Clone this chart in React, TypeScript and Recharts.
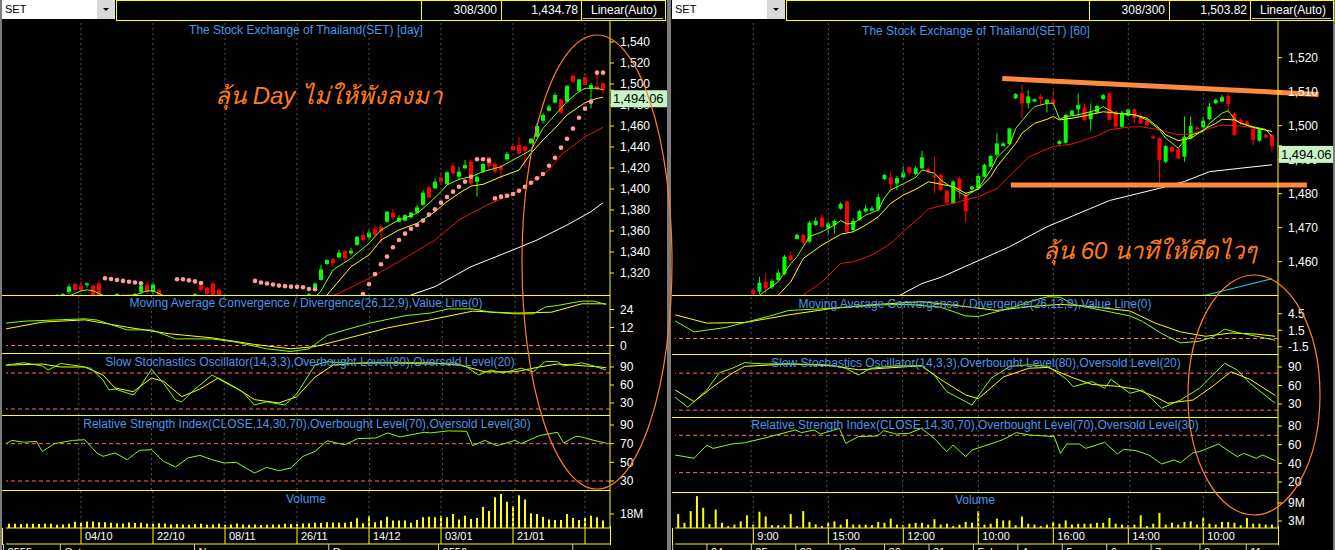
import React from 'react';
import { ComposedChart, Bar, Line, XAxis, YAxis, ReferenceLine } from 'recharts';

// ---------------- DATA: daily panel (100 bars) ----------------
const dayO = [1291,1292,1294,1293,1295,1296,1294,1296,1297,1298, 1302,1309.5,1308,1308.5,1308,1310,1297,1294,1297,1299, 1296,1297,1302,1309,1302,1304,1297,1293,1291,1294, 1293,1297,1308,1306,1310,1304,1296,1291,1286,1288, 1284,1280,1282,1278,1275,1279,1277,1281,1285,1288, 1295,1304.5,1313.3,1328.6,1333.3,1334.9,1341,1338.7,1346.7,1356.2, 1354,1361.6,1364.1,1368.9,1377.5,1368.9,1369.8,1373,1377.5,1384.8, 1401.6,1400.6,1410.8,1404.8,1421.9,1411.7,1419.7,1426,1406.9,1416.5, 1430.1,1423.8,1421.3,1428.2,1440.9,1441.9,1440.3,1443.5,1449.8,1465.1, 1474.6,1482.2,1485.4,1483.2,1507.6,1493.6,1506.3,1495.9,1498.1,1500.6];
const dayH = [1294,1296,1297,1296,1298,1298,1297,1299,1300,1301, 1309,1311,1312,1311,1309,1313,1299,1297,1301,1300, 1298,1301,1310,1312,1311,1305,1299,1296,1295,1297, 1296,1301,1309,1307,1312,1305,1298,1293,1290,1291, 1287,1284,1285,1281,1280,1283,1282,1286,1290,1294, 1301,1311,1327.6,1333,1334,1342,1341.5,1344,1355,1360, 1361,1365.7,1365,1379,1381,1375,1376,1378,1384.8,1399, 1403,1410,1415.6,1417,1425,1421,1427.6,1428,1413,1425, 1431,1426,1423,1435.6,1443,1449.8,1442,1448.5,1462.5,1472.7, 1480,1491.7,1486,1499,1510.2,1505,1510.2,1501,1511.7,1501];
const dayL = [1288,1290,1291,1289,1292,1293,1290,1293,1294,1295, 1300,1302,1302,1306,1296,1296,1292,1291,1295,1294, 1292,1295,1300,1300,1300,1295,1291,1289,1287,1290, 1290,1295,1302,1298,1297,1296,1290,1285,1282,1283, 1278,1276,1277,1272,1271,1275,1274,1279,1283,1286, 1293,1303,1313,1328,1326,1334,1329.8,1337,1346,1350, 1352,1355,1348,1368,1370.5,1368,1369,1372,1377,1384, 1391,1400,1403.8,1404,1414,1408.6,1419,1404,1392.7,1415, 1418,1415,1410,1427,1436,1432.4,1419.7,1443,1449,1462.5, 1474,1481.5,1471.4,1482.5,1500.6,1493,1498.5,1476.8,1494,1490.5];
const dayC = [1292,1294,1293,1295,1296,1294,1296,1297,1299,1300, 1307,1304,1304,1310,1299,1299,1294,1296,1300,1296, 1297,1300,1308,1302,1309,1298,1293,1291,1294,1292, 1295,1300,1304,1300,1299,1299,1291,1286,1288,1284, 1280,1282,1278,1275,1279,1277,1281,1285,1288,1293, 1300,1310,1323.5,1332.4,1329.2,1339.4,1334,1341.3,1354.6,1351.4, 1358.4,1356.2,1359.4,1378.4,1373,1372.7,1375.2,1377.5,1382.5,1396.5, 1392,1407,1407,1415.9,1414.9,1416.5,1422.8,1405.4,1411.7,1423.8, 1421.9,1416.5,1418.1,1433.3,1437.1,1434,1436.5,1447.9,1460,1470.5, 1478.4,1489.5,1472.7,1498.1,1502.2,1504.4,1499.1,1499.1,1494.9,1494.06];
const dayVol = [5.4,5.4,5.0,5.4,5.4,5.0,5.4,5.4,4.2,4.6, 5.4,8.0,6.5,8.3,8.3,7.5,7.5,6.8,6.2,5.8, 7.0,6.5,6.8,5.8,5.4,6.2,5.8,4.6,5.0,4.6, 4.2,5.0,5.4,4.2,4.6,5.4,4.2,4.6,5.8,4.6, 4.2,4.6,3.8,4.2,4.6,4.6,5.4,5.0,5.4,5.8, 6.2,6.8,6.5,7.5,7.2,6.6,6.8,8.0,12.5,6.2, 15.8,7.5,9.5,14.5,9.5,9.5,9.5,6.6,10.4,13.7, 14.5,13.7,15.8,13.7,17.9,10.8,15.8,11.6,12.9,27, 22,39.5,43.7,33.7,28.3,42,36.6,19.1,17.9,14.5, 10.8,10.4,10.4,17.9,12.9,10.4,12.9,15.8,13.7,9.5];

type Pair = [number, number];
// readings [bar index, value]
const dayFast: Pair[] = [[10,1298],[12,1303],[13,1304],[14,1303],[16,1298],[21,1299],[23,1303],[24,1303],[26,1298],[30,1293],[40,1285],[48,1290],[51,1297],[52,1303],[54,1322.9],[57,1334],[60,1348.3],[62,1361],[65,1370.5],[68,1376.8],[70,1386.4],[72,1397.5],[73,1403.8],[75,1409.2],[77,1411.7],[79,1416.5],[82,1421.3],[84,1427.6],[87,1437.1],[89,1457.8],[91,1470.5],[93,1483.2],[95,1492.7],[96,1495.9],[98,1495.9],[99,1494.3]];
const dayMid: Pair[] = [[10,1294],[24,1297],[48,1285],[53,1299],[57,1326],[60,1337.2],[62,1351.4],[65,1361],[68,1367.3],[71,1378.4],[73,1388],[75,1395.9],[77,1402.8],[79,1404.4],[82,1411.7],[85,1418],[87,1434],[89,1446.7],[91,1457.8],[93,1470.5],[96,1482.2],[98,1486.3],[99,1487.3]];
const daySlow: Pair[] = [[50,1290],[55,1300.6],[60,1314.9],[65,1330.8],[71,1351.4],[75,1370.5],[77,1376.8],[80,1385.7],[84,1395.2],[87,1405.4],[90,1418.1],[92,1432.4],[96,1449.8],[99,1458.7]];
const dayLong: Pair[] = [[64,1292],[67,1299],[71,1307],[75,1319.7],[77,1326],[84,1342],[88,1351.4],[93,1365.7],[97,1378.4],[99,1387]];
const daySar: Pair[] = [[16,1315],[17,1314.3],[18,1313.3],[19,1312.5],[20,1311.7],[21,1311],[22,1310.3],[28,1314],[29,1314],[30,1313],[31,1312],[32,1310.5],[41,1312.5],[42,1311],[43,1310],[44,1309],[45,1308],[46,1307.5],[47,1307],[48,1306.8],[49,1306.4],[50,1304.8],[51,1304.5],[59,1300],[60,1309.4],[61,1318.9],[62,1328.4],[63,1335.6],[64,1344.5],[65,1351.4],[66,1357.5],[67,1362.2],[68,1365.7],[69,1369.9],[70,1375.6],[71,1380.6],[72,1387],[73,1392.4],[74,1397.5],[75,1402.2],[76,1407],[77,1411.7],[78,1428.3],[79,1428.3],[80,1427],[81,1391.1],[82,1392.7],[83,1393.6],[84,1395.2],[85,1398.4],[86,1402.2],[87,1406],[88,1410.2],[89,1414.3],[90,1422.2],[91,1429.8],[92,1439.4],[93,1447.9],[94,1457.5],[95,1467.9],[96,1476.5],[97,1483.2],[98,1510.8],[99,1510.8]];
const dayMacd: Pair[] = [[0,14.9],[3,16.2],[13,17.8],[15,17],[20,10.4],[24,10.4],[28,4.4],[34,4.4],[38,2.2],[43,-2.2],[47,-4],[50,-2.2],[53,6.7],[56,10.4],[60,14.9],[66,20],[70,21.6],[73,24.4],[77,24.4],[80,22.2],[84,21.1],[87,21.1],[89,25.6],[91,26.7],[95,29.6],[97,29.6],[99,27.3]];
const dayMacdSig: Pair[] = [[0,11.1],[6,15.6],[13,17.1],[20,12.2],[27,7.8],[34,5.1],[41,0.7],[47,-2.2],[51,-0.7],[56,4.4],[63,11.8],[70,17.1],[77,22.9],[84,21.6],[90,22.2],[95,27.8],[99,27.8]];
const dayStoK: Pair[] = [[0,93.3],[3,97],[6,91.7],[7,85],[9,96],[12,91.7],[14,87.8],[16,68.3],[17,51.7],[18,53.3],[21,43.3],[22,55],[24,86],[26,62.8],[28,35],[29,32],[31,51.7],[34,76.7],[36,65],[39,48.9],[41,26.7],[43,32],[46,26.7],[48,45.6],[51,93.3],[53,98.9],[57,96],[63,97],[70,95],[74,97],[76,90],[78,76.7],[80,85],[82,80],[85,88],[87,82],[89,99.4],[91,98.9],[92,91.7],[95,97],[97,91.7],[99,85]];
const dayStoD: Pair[] = [[0,93],[6,95],[9,90],[13,90],[16,76.7],[18,55],[21,48.9],[24,71.7],[26,66.1],[29,40.6],[32,53.3],[35,71.7],[38,55],[41,35.6],[45,30],[48,40.6],[51,73.3],[54,93.3],[59,97],[70,97],[75,93],[79,82],[84,82],[88,90],[91,95],[98,90],[99,88.9]];
const dayRsi: Pair[] = [[0,70],[1,73.5],[3,71.5],[5,72.5],[6,61.7],[8,70],[11,73.5],[13,74.2],[15,60],[16,56.4],[18,60],[20,52.8],[22,62.8],[24,63.5],[26,51],[28,45],[30,54.6],[32,57.5],[34,52.8],[36,49.3],[38,50],[41,38.5],[43,44.6],[45,41],[47,44],[49,56.4],[51,61.7],[53,73.1],[55,70],[56,69],[58,75.4],[61,76.1],[63,81.5],[65,77.2],[69,82.2],[70,81.5],[73,83.7],[76,83.3],[77,67.8],[79,73.5],[81,67.8],[84,73.5],[85,70],[88,78.6],[91,82.2],[92,70.7],[94,77.9],[95,77.2],[97,73.5],[99,70.7]];

const dayGrid = [12, 24, 36, 48, 60, 72, 84, 96];
const dayGridLabels = ['04/10', '22/10', '08/11', '26/11', '14/12', '03/01', '21/01', ''];
const dayMonthTicks = [-0.4, 8.9, 30.9, 52.9, 70.9, 92.9];
const dayMonthLabels = ['2555', 'Oct', 'Nov', 'Dec', '2556', ''];
const dayLast = 1494.06;

// ---------------- DATA: 60-minute panel (96 bars) ----------------
const hrO = [1442,1443,1444,1443,1441,1443,1445,1446,1445,1447, 1448,1447,1451.7,1451.2,1454.1,1452.5,1454.6,1456.4,1461.8,1466.7, 1467.9,1465.9,1470.8,1473,1469.8,1470.8,1475.6,1477.7,1469.3,1472.3, 1474.7,1475,1475.4,1484.3,1484.8,1483,1484.8,1487.8,1485.8,1487.5, 1487.3,1485.5,1485.5,1480.9,1477.2,1484.5,1479.4,1481.3,1481.6,1485, 1488,1491.5,1494,1494.6,1508.1,1509.5,1506.6,1507.1,1508.6,1506.6, 1507.6,1494.6,1495,1503.2,1504.8,1505.4,1501.9,1503.9,1507.8,1509.5, 1504.1,1499.7,1502.9,1504.8,1502.7,1501.5,1496.8,1496.3,1489.4,1493.7, 1493.1,1490.9,1496.3,1499.5,1499.5,1501.9,1506.6,1507.1,1508.8,1503.5, 1501.7,1501.2,1499.2,1495.6,1497.3,1497.3];
const hrH = [1444,1445,1446,1445,1444,1446,1447,1448,1448,1449, 1449.5,1449.5,1452,1455.6,1456.6,1455,1457.8,1462,1463,1468.3, 1468.2,1472,1473,1474,1471.8,1472.4,1477.5,1478.1,1472.8,1475.3, 1476.7,1476.4,1480,1485.8,1486.5,1485.2,1488.1,1488,1488.1,1492.6, 1487.8,1490.9,1486,1481,1484,1485,1480.5,1482.4,1486,1488.8, 1491.4,1497.8,1495.3,1499.5,1509.6,1512,1510.5,1508,1509.3,1507.9, 1510.3,1495.7,1503.5,1504.6,1509.5,1506.6,1506.6,1506.1,1509.3,1509.7, 1504.4,1504.4,1505,1505.1,1503.7,1502,1497.2,1496.6,1494.3,1494, 1493.4,1502.7,1502.7,1499.8,1502.7,1506.6,1507.9,1509,1509.5,1504.1, 1502.2,1501.5,1499.5,1499.3,1497.6,1497.6];
const hrL = [1440,1441,1442,1440,1439,1442,1443,1444,1444,1445, 1446,1446,1449,1450.5,1450.7,1452,1454.3,1456,1460.3,1466.5, 1464.9,1465.5,1470.5,1470,1467.9,1468.3,1475.3,1468.5,1468.8,1472, 1474.5,1474.8,1475,1484,1480.6,1481.1,1484.5,1485.5,1485.5,1487.2, 1486,1480.1,1480.8,1477,1477,1478.6,1471.6,1481,1481.3,1484.8, 1487.8,1490.9,1494,1494.3,1507.8,1502.2,1505.1,1506.9,1506,1503.9, 1505.8,1494.4,1494.8,1503,1502.7,1501.2,1498.6,1503.6,1507.6,1501.5, 1498.8,1499.4,1502.7,1500.7,1500.5,1499.8,1496,1483.1,1489,1492, 1490,1489.4,1496,1498.8,1499.2,1501.6,1506.4,1506.9,1503.7,1497, 1500.2,1500,1494.3,1495.3,1496.3,1492.1];
const hrC = [1443,1444,1443,1441,1443,1445,1446,1445,1447,1448, 1447,1449,1450.5,1453.8,1452.2,1454.3,1456.8,1461.5,1460.5,1467.9, 1465.7,1471.5,1472,1470.3,1471.3,1472,1477,1468.8,1472,1474.9, 1475.7,1475.7,1479,1485.5,1482.8,1484.6,1486.2,1486.2,1487.5,1490.7, 1486.3,1484.8,1481.1,1477.4,1483.6,1481.1,1474.8,1482.1,1485.2,1488.5, 1491.1,1494.8,1494.8,1499.2,1509.3,1506.6,1508.6,1507.8,1507.8,1507.6, 1506.4,1495.5,1503.2,1504.4,1506.1,1501.7,1503.9,1505.8,1509,1501.7, 1499.7,1503.5,1504.8,1502.2,1500.7,1500.2,1496.3,1489.9,1494,1492.4, 1490.4,1496.8,1499.9,1499,1501.5,1505.6,1507.6,1508.4,1506.4,1497.3, 1500.7,1500.2,1495.8,1499,1496.6,1494.06];
const hrVol = [5.3,2.4,6.3,11.3,7.4,2,6.8,2.4,1.3,1.8, 2.9,4.9,1.8,6.1,4.5,1.6,1.6,1.6,5.3,1.3, 6.3,2.7,1.9,1.3,2.4,2.9,1.8,3.6,1.8,1.8, 1.8,1.6,2.7,2.4,3.8,1.8,1.6,2.1,2.4,2.4, 1.8,3.6,1.8,2.1,1.3,1.8,2.7,2.4,6.3,1.8, 2.1,3.8,3.2,3.2,1.6,4.5,2.1,1.8,1.3,1.8, 2.7,2.1,3.2,1.8,2.1,2.1,2.1,2.4,2.4,4, 2.1,1.8,1.6,1.8,4.9,1.3,2.1,5.7,1.8,2.4, 1.8,2.7,2.9,1.8,4,2.1,1.8,2.7,2.7,2.4, 1.6,4,2.1,2.1,1.8,1.8];

const hrFast: Pair[] = [[12,1447],[13,1450.2],[16,1454.1],[18,1459.5],[19,1461.5],[21,1467.4],[23,1468.8],[25,1470.8],[26,1472.1],[27,1471.1],[28,1471.3],[30,1473.7],[32,1475.2],[33,1478.9],[34,1481.1],[36,1482.9],[38,1484.8],[39,1487],[41,1486],[42,1484],[44,1481.6],[46,1479.3],[48,1481.6],[50,1487],[51,1490.7],[53,1494.3],[54,1499.2],[56,1503.7],[57,1505.6],[59,1506.6],[60,1506.6],[61,1501.9],[62,1502.7],[64,1503.2],[65,1503.7],[67,1504.6],[68,1505.6],[69,1504.6],[70,1503.5],[71,1503.7],[73,1503.2],[75,1501.7],[77,1498.8],[78,1496.3],[80,1493.4],[81,1495.8],[82,1497.3],[84,1498.3],[85,1500.7],[87,1503.7],[88,1504.4],[89,1501.9],[90,1500.7],[92,1499.7],[94,1498.9],[95,1496.8]];
const hrMid: Pair[] = [[15,1448],[16,1450.2],[18,1454.1],[20,1461],[23,1464.9],[26,1468.1],[28,1468.8],[30,1470.8],[32,1473.2],[34,1477.2],[36,1479.6],[38,1481.3],[40,1483.5],[42,1482.8],[44,1482.1],[46,1480.1],[48,1481.3],[50,1485],[51,1488],[54,1494.8],[55,1497.8],[57,1500.7],[59,1501.9],[60,1502.7],[61,1501.7],[63,1502.2],[65,1502.9],[68,1504.1],[70,1503.7],[71,1503.5],[73,1503.2],[75,1502.2],[77,1499.2],[78,1497.3],[80,1495.6],[82,1496.3],[84,1498.8],[86,1500.7],[87,1501.9],[89,1501.7],[90,1500.7],[92,1499.5],[95,1498.3]];
const hrSlow: Pair[] = [[19,1448],[20,1450.2],[23,1454.1],[26,1459.5],[28,1460],[31,1462],[34,1465.4],[36,1468.8],[39,1473.7],[40,1475.5],[42,1476.4],[44,1477.2],[46,1478.2],[48,1479.1],[51,1481.6],[54,1487],[56,1490.7],[58,1492.4],[60,1493.9],[63,1494.6],[65,1495.8],[67,1497],[69,1498.8],[72,1499.6],[74,1499.7],[77,1498.8],[80,1497.3],[82,1497.6],[85,1499.2],[87,1500.2],[90,1499.9],[93,1499.2],[95,1498.3]];
const hrLong: Pair[] = [[34,1448.5],[36,1450.7],[39,1453.6],[42,1455.4],[53,1464.4],[59,1470.3],[66,1475.7],[69,1478],[77,1481.6],[81,1483.6],[85,1486.5],[90,1487.5],[95,1488.5]];
const hrCyan: Pair[] = [[84,1450],[95,1455]];
const hrMacd: Pair[] = [[0,3.2],[3,1.2],[8,2],[15,4.1],[18,5.1],[25,5.5],[32,6.1],[37,6.2],[42,5.7],[46,4.1],[48,4],[53,5.5],[57,7],[59,7.6],[61,7.5],[63,6.2],[66,5.5],[72,4.1],[74,3.1],[77,0.9],[80,-0.8],[83,-0.5],[85,0.2],[87,1.7],[89,1.1],[92,0.4],[95,-0.3]];
const hrMacdSig: Pair[] = [[0,4.3],[5,2.8],[11,2.9],[18,4.3],[25,5.5],[32,6.2],[39,6.7],[46,5.8],[51,5.1],[56,5.8],[61,6.2],[66,5.8],[72,5],[76,2.8],[80,1.2],[84,0.4],[88,1],[92,0.8],[95,0.4]];
const hrStoK: Pair[] = [[0,40.9],[2,24.7],[5,52.7],[7,80.8],[9,87.8],[11,97],[14,95],[18,95],[24,93.6],[27,88],[29,77],[31,88],[35,92],[39,92],[41,77],[43,50],[46,33.8],[47,28.4],[50,71.7],[53,91],[56,93.6],[59,91],[62,70],[63,58],[66,66.4],[68,55.5],[69,70],[72,47.4],[74,52.7],[77,23],[80,36.5],[83,55.5],[87,96],[89,85],[91,63.6],[95,31.2]];
const hrStoD: Pair[] = [[0,52.7],[3,33.8],[6,58],[9,79.7],[11,91],[18,95],[25,92],[29,85.4],[33,88],[39,92],[42,70],[46,44.6],[48,38.6],[52,74],[56,88],[59,89.3],[63,72.4],[66,61.7],[70,58.7],[73,54],[76,41.9],[78,31.2],[82,36.5],[85,58],[88,82.2],[91,70],[95,44]];
const hrRsi: Pair[] = [[0,48.9],[3,45.4],[5,59.6],[6,56],[9,60.7],[11,62.1],[14,66.8],[16,70.4],[19,75.7],[20,72.9],[22,75.7],[23,71.4],[26,77.5],[27,61.4],[29,68.6],[32,69.3],[33,75],[35,71.4],[37,72.1],[39,77.5],[41,66.8],[43,52.5],[44,59.6],[46,47.1],[47,54.3],[51,63.2],[52,65.7],[54,72.9],[56,70.4],[60,68.6],[61,50.7],[62,60.7],[64,60.7],[65,56],[68,62.5],[70,50],[71,55],[73,53.6],[75,48.9],[77,39.3],[79,43.6],[80,40.7],[82,51.4],[83,52.5],[86,60.7],[89,47.1],[90,50.7],[92,45.4],[93,48.9],[95,42.9]];
// hand-drawn trend lines: [bar position, price]
const hrResistance: Pair[] = [[51.55, 1513.9], [101.4, 1509.2]];
const hrSupport: Pair[] = [[52.9, 1482.56], [99.55, 1482.56]];

const hrGrid = [12, 24, 36, 48, 60, 72, 84];
const hrGridLabels = ['9:00', '15:00', '12:00', '10:00', '16:00', '14:00', '10:00'];
const hrDayTicks = [-0.4, 5, 12, 19, 26, 33, 40, 47, 54, 61, 68, 75, 82.7, 90];
const hrDayLabels = ['', '24', '25', '28', '29', '30', '31', 'Feb', '4', '5', '6', '7', '8', '11'];
const hrLast = 1494.06;

// ---------------- helpers ----------------
const FONT = 'Arial, "Liberation Sans", Helvetica, sans-serif';
const AX = '#ffff00';
const LGREEN = '#88ff00';
const TITLE = '#4a96ea';

function sparse(n: number, pairs: Pair[]) {
  const out: (number | null)[] = new Array(n).fill(null);
  pairs.forEach(([k, v]) => { out[k] = v; });
  return out;
}
function rows(n: number, cols: Record<string, (number | null)[]>) {
  return Array.from({ length: n }, (_, i) => {
    const r: any = { i };
    Object.keys(cols).forEach((k) => { r[k] = cols[k][i]; });
    return r;
  });
}

const ND = 100, NH = 96;
const dayPrice = rows(ND, { o: dayO, h: dayH, l: dayL, c: dayC, f: sparse(ND, dayFast), m: sparse(ND, dayMid), s: sparse(ND, daySlow), w: sparse(ND, dayLong), sar: sparse(ND, daySar) });
const dayMacdRows = rows(ND, { a: sparse(ND, dayMacd), b: sparse(ND, dayMacdSig) });
const dayStoRows = rows(ND, { a: sparse(ND, dayStoK), b: sparse(ND, dayStoD) });
const dayRsiRows = rows(ND, { a: sparse(ND, dayRsi) });
const dayVolRows = rows(ND, { v: dayVol });

const hrPrice = rows(NH, { o: hrO, h: hrH, l: hrL, c: hrC, f: sparse(NH, hrFast), m: sparse(NH, hrMid), s: sparse(NH, hrSlow), w: sparse(NH, hrLong), cy: sparse(NH, hrCyan) });
const hrMacdRows = rows(NH, { a: sparse(NH, hrMacd), b: sparse(NH, hrMacdSig) });
const hrStoRows = rows(NH, { a: sparse(NH, hrStoK), b: sparse(NH, hrStoD) });
const hrRsiRows = rows(NH, { a: sparse(NH, hrRsi) });
const hrVolRows = rows(NH, { v: hrVol });

const LEFT = { x: 0, w: 668, mL: 6, axW: 58, padR: 4, num: [-0.5, 100.1667] as [number, number], grid: dayGrid };
const RIGHT = { x: 670, w: 665, mL: 5.2, axW: 57, padR: 2.8, num: [-0.5, 95.948] as [number, number], grid: hrGrid };

const Candle = (p: any) => {
  const d = p.payload;
  if (!d || d.h == null) return <g />;
  const top = Math.min(p.y, p.y + p.height);
  const bot = Math.max(p.y, p.y + p.height);
  const k = d.h > d.l ? (bot - top) / (d.h - d.l) : 0;
  const py = (v: number) => top + (d.h - v) * k;
  const cx = p.x + p.width / 2;
  const up = d.c >= d.o;
  const col = up ? '#00ff00' : '#ff0000';
  const b1 = py(Math.max(d.o, d.c));
  const b2 = py(Math.min(d.o, d.c));
  return (
    <g>
      <line x1={cx} x2={cx} y1={top} y2={bot} stroke={col} strokeWidth={1} />
      <rect x={p.x} y={b1} width={p.width} height={Math.max(1, b2 - b1)} fill={col} />
    </g>
  );
};

const SarDot = (p: any) => {
  if (!p.payload || p.payload.sar == null) return <g key={p.index} />;
  return <circle key={p.index} cx={p.cx} cy={p.cy} r={2.3} fill="#ff9c9c" />;
};

// y-axis tick renderer; the last-price value is drawn as a tag over the scale
const mkYTick = (fmt: (v: number) => string, tag?: { value: number; text: string; w: number }) => (p: any) => {
  const v = Number(p.payload ? p.payload.value : NaN);
  if (tag && Math.abs(v - tag.value) < 1e-9) {
    const x = p.x - 9;
    return (
      <g>
        <rect x={x} y={p.y} width={tag.w} height={17} fill="#c8f3c4" />
        <text x={x + 2} y={p.y + 13} fill="#000" fontSize={13} fontFamily={FONT}>{tag.text}</text>
      </g>
    );
  }
  return (
    <text x={p.x} y={p.y} dy="0.355em" textAnchor="start" fill="#ffffff" fontSize={12} fontFamily={FONT}>{fmt(v)}</text>
  );
};

const mkTick = (vals: number[], labels: string[], color: string, dx: number) => (p: any) => {
  const v = p.payload ? p.payload.value : null;
  let k = -1;
  vals.forEach((t, n) => { if (Math.abs(t - Number(v)) < 1e-6) k = n; });
  return (
    <g>
      <line x1={p.x} x2={p.x} y1={p.y} y2={p.y + 16} stroke={color} strokeWidth={1} />
      <text x={p.x + dx} y={p.y + 12} fill="#ffffff" fontSize={11} fontFamily={FONT}>{k >= 0 ? labels[k] : ''}</text>
    </g>
  );
};

const plain = (v: number) => String(v);

function Pane(props: any) {
  const { cfg, top, h, data, dom, ticks, fmt, axes, tag, children } = props;
  const total = h + (axes ? 34 : 0);
  const f = fmt || plain;
  const allTicks = tag ? [...ticks, tag.value] : ticks;
  return (
    <div style={{ position: 'absolute', left: cfg.x, top, width: cfg.w, height: total, overflow: 'hidden' }}>
      <ComposedChart width={cfg.w} height={total} data={data} margin={{ top: 0, right: 0, bottom: 0, left: cfg.mL }}>
        <XAxis dataKey="i" type="category" hide={!axes} height={16} padding={{ left: 0, right: cfg.padR }}
          ticks={axes ? axes.grid : undefined} interval={0} tickLine={false} tickSize={0} tickMargin={0}
          axisLine={{ stroke: AX }} tick={axes ? axes.gridTick : false} />
        <XAxis xAxisId="num" type="number" domain={cfg.num} allowDataOverflow hide={!axes} height={18}
          ticks={axes ? axes.sep : undefined} interval={0} tickLine={false} tickSize={0} tickMargin={0}
          axisLine={{ stroke: AX }} tick={axes ? axes.sepTick : false} />
        <YAxis orientation="right" type="number" width={cfg.axW} domain={dom} allowDataOverflow ticks={allTicks} interval={0}
          axisLine={{ stroke: AX }} tickLine={{ stroke: AX }} tickSize={4} tickMargin={6}
          tick={mkYTick(f, tag)} />
        {cfg.grid.map((g: number) => (
          <ReferenceLine key={'g' + g} x={g} stroke="#555555" strokeDasharray="2 3" />
        ))}
        {children}
      </ComposedChart>
    </div>
  );
}

const comma = (v: number) => v.toLocaleString('en-US');
const mFmt = (v: number) => `${v}M`;
const dash = (y: number) => <ReferenceLine key={'d' + y} y={y} stroke="#ff6b6b" strokeDasharray="4 3" />;

function PricePane({ cfg, data, dom, ticks, sar, cyan, tag, children }: any) {
  return (
    <Pane cfg={cfg} top={20} h={275} data={data} dom={dom} ticks={ticks} fmt={comma} tag={tag}>
      <Bar dataKey={(d: any) => [d.l, d.h]} barSize={4} shape={Candle} isAnimationActive={false} />
      <Line dataKey="w" stroke="#ffffff" strokeWidth={1} dot={false} connectNulls isAnimationActive={false} />
      <Line dataKey="s" stroke="#ee1111" strokeWidth={1} dot={false} connectNulls isAnimationActive={false} />
      <Line dataKey="m" stroke="#ffff00" strokeWidth={1} dot={false} connectNulls isAnimationActive={false} />
      <Line dataKey="f" stroke={LGREEN} strokeWidth={1} dot={false} connectNulls isAnimationActive={false} />
      {cyan ? <Line dataKey="cy" stroke="#33ccff" strokeWidth={1} dot={false} connectNulls isAnimationActive={false} /> : null}
      {sar ? <Line dataKey="sar" stroke="none" dot={SarDot} activeDot={false} isAnimationActive={false} /> : null}
      {children}
    </Pane>
  );
}

function Osc({ cfg, top, h, data, dom, ticks, lines, fmt }: any) {
  return (
    <Pane cfg={cfg} top={top} h={h} data={data} dom={dom} ticks={ticks} fmt={fmt}>
      {lines.map(dash)}
      <Line dataKey="b" stroke="#ffff00" strokeWidth={1} dot={false} connectNulls isAnimationActive={false} />
      <Line dataKey="a" stroke={LGREEN} strokeWidth={1} dot={false} connectNulls isAnimationActive={false} />
    </Pane>
  );
}

const Title = ({ x, y, text }: any) => (
  <div style={{ position: 'absolute', left: x, top: y, transform: 'translate(-50%, -50%)', color: TITLE, font: `12px ${FONT}`, whiteSpace: 'nowrap' }}>{text}</div>
);
const HLine = ({ x1, x2, y, color }: any) => (
  <div style={{ position: 'absolute', left: x1, top: y, width: x2 - x1, height: 1, background: color || AX }} />
);
const VLine = ({ x, y1, y2, color, w }: any) => (
  <div style={{ position: 'absolute', left: x, top: y1, width: w || 1, height: y2 - y1, background: color || AX }} />
);

function Header({ x0, boxL, boxR, d1, d2, d3, a, b }: any) {
  const txt = { position: 'absolute' as const, top: 3, color: '#fff', font: `12px ${FONT}`, lineHeight: '14px', whiteSpace: 'nowrap' as const };
  return (
    <>
      <div style={{ position: 'absolute', left: x0, top: 0, width: boxL - x0 - 19, height: 19, background: '#fff' }}>
        <span style={{ position: 'absolute', left: 3, top: 3, font: `11px ${FONT}`, color: '#000' }}>SET</span>
      </div>
      <div style={{ position: 'absolute', left: boxL - 19, top: 0, width: 18, height: 19, background: '#d8d8d8' }}>
        <div style={{ position: 'absolute', left: 6, top: 8, width: 0, height: 0, borderLeft: '3px solid transparent', borderRight: '3px solid transparent', borderTop: '3px solid #000' }} />
      </div>
      <div style={{ position: 'absolute', left: boxL, top: 0, width: boxR - boxL, height: 21, border: `1px solid ${AX}`, boxSizing: 'border-box' }} />
      <VLine x={d1} y1={0} y2={21} />
      <VLine x={d2} y1={0} y2={21} />
      <VLine x={d3} y1={0} y2={21} />
      <div style={{ ...txt, left: d1, width: d2 - d1 - 4, textAlign: 'right' }}>308/300</div>
      <div style={{ ...txt, left: d2, width: d3 - d2 - 3, textAlign: 'right' }}>{a}</div>
      <div style={{ ...txt, left: d3 + 10 }}>{b}</div>
      <HLine x1={d3 + 2} x2={boxR - 3} y={18} color="#c8c8c8" />
    </>
  );
}

export default function App() {
  const dayAxes = {
    grid: dayGrid, gridTick: mkTick(dayGrid, dayGridLabels, AX, 4),
    sep: dayMonthTicks, sepTick: mkTick(dayMonthTicks, dayMonthLabels, '#d0d0d0', 4),
  };
  const hrAxes = {
    grid: hrGrid, gridTick: mkTick(hrGrid, hrGridLabels, AX, 4),
    sep: hrDayTicks, sepTick: mkTick(hrDayTicks, hrDayLabels, '#d0d0d0', 4),
  };
  return (
    <div style={{ position: 'absolute', left: 0, top: 0, width: 1335, height: 550, background: '#000', overflow: 'hidden' }}>
      {/* ---- left: daily ---- */}
      <PricePane cfg={LEFT} data={dayPrice} dom={[1299.05, 1560.95]} ticks={[1320, 1340, 1360, 1380, 1400, 1420, 1440, 1460, 1480, 1500, 1520, 1540]} sar tag={{ value: dayLast, text: comma(dayLast), w: 57 }} />
      <Osc cfg={LEFT} top={295} h={58} data={dayMacdRows} dom={[-5, 33.67]} ticks={[0, 12, 24]} lines={[0]} />
      <Osc cfg={LEFT} top={353} h={62} data={dayStoRows} dom={[10, 113.33]} ticks={[30, 60, 90]} lines={[80, 20]} />
      <Pane cfg={LEFT} top={415} h={75} data={dayRsiRows} dom={[20.36, 100.71]} ticks={[30, 50, 70, 90]}>
        {[70, 30].map(dash)}
        <Line dataKey="a" stroke={LGREEN} strokeWidth={1} dot={false} connectNulls isAnimationActive={false} />
      </Pane>
      <Pane cfg={LEFT} top={490} h={38} data={dayVolRows} dom={[0, 48.86]} ticks={[18]} fmt={mFmt} axes={dayAxes}>
        <Bar dataKey="v" fill="#ffff00" barSize={2} isAnimationActive={false} />
      </Pane>

      {/* ---- right: 60 minutes ---- */}
      <PricePane cfg={RIGHT} data={hrPrice} dom={[1450.21, 1531.09]} ticks={[1460, 1470, 1480, 1490, 1500, 1510, 1520]} cyan tag={{ value: hrLast, text: comma(hrLast), w: 56 }}>
        <ReferenceLine xAxisId="num" segment={hrResistance.map(([x, y]) => ({ x, y }))} stroke="#ff8a3d" strokeWidth={5} ifOverflow="visible" />
        <ReferenceLine xAxisId="num" segment={hrSupport.map(([x, y]) => ({ x, y }))} stroke="#ff8a3d" strokeWidth={5} ifOverflow="visible" />
      </PricePane>
      <Osc cfg={RIGHT} top={295} h={59} data={hrMacdRows} dom={[-2.82, 7.91]} ticks={[-1.5, 1.5, 4.5]} lines={[0]} />
      <Osc cfg={RIGHT} top={354} h={63} data={hrStoRows} dom={[8.92, 111.08]} ticks={[30, 60, 90]} lines={[80, 20]} />
      <Pane cfg={RIGHT} top={417} h={75} data={hrRsiRows} dom={[9.29, 89.64]} ticks={[20, 40, 60, 80]}>
        {[70, 30].map(dash)}
        <Line dataKey="a" stroke={LGREEN} strokeWidth={1} dot={false} connectNulls isAnimationActive={false} />
      </Pane>
      <Pane cfg={RIGHT} top={492} h={36} data={hrVolRows} dom={[0.67, 12.67]} ticks={[3, 9]} fmt={mFmt} axes={hrAxes}>
        <Bar dataKey="v" fill="#ffff00" barSize={2} isAnimationActive={false} />
      </Pane>

      {/* panel separators */}
      {[295, 353, 415, 490].map((y) => <HLine key={'l' + y} x1={2} x2={610} y={y} />)}
      {[295, 354, 417, 492].map((y) => <HLine key={'r' + y} x1={672} x2={1278} y={y} />)}
      <VLine x={610} y1={526} y2={545} />
      <VLine x={1278} y1={526} y2={545} />
      <VLine x={2} y1={528} y2={545} />
      <VLine x={672} y1={528} y2={545} />
      <VLine x={0} y1={0} y2={550} w={2} color="#7c7c7c" />
      <VLine x={667} y1={0} y2={550} w={4} color="#7c7c7c" />
      <VLine x={1333} y1={0} y2={550} w={2} color="#7c7c7c" />

      {/* titles */}
      <Title x={306} y={30} text="The Stock Exchange of Thailand(SET) [day]" />
      <Title x={306} y={303} text="Moving Average Convergence / Divergence(26,12,9),Value Line(0)" />
      <Title x={310} y={362} text="Slow Stochastics Oscillator(14,3,3),Overbought Level(80),Oversold Level(20)" />
      <Title x={307} y={424} text="Relative Strength Index(CLOSE,14,30,70),Overbought Level(70),Oversold Level(30)" />
      <Title x={306} y={499} text="Volume" />
      <Title x={976} y={31} text="The Stock Exchange of Thailand(SET) [60]" />
      <Title x={975} y={304} text="Moving Average Convergence / Divergence(26,12,9),Value Line(0)" />
      <Title x={976} y={363} text="Slow Stochastics Oscillator(14,3,3),Overbought Level(80),Oversold Level(20)" />
      <Title x={975} y={425} text="Relative Strength Index(CLOSE,14,30,70),Overbought Level(70),Oversold Level(30)" />
      <Title x={975} y={500} text="Volume" />

      {/* headers */}
      <Header x0={2} boxL={116} boxR={666} d1={421} d2={501} d3={581} a="1,434.78" b="Linear(Auto)" />
      <Header x0={672} boxL={786} boxR={1334} d1={1089} d2={1169} d3={1250} a="1,503.82" b="Linear(Auto)" />

      {/* hand-written notes */}
      <div style={{ position: 'absolute', left: 215, top: 76, color: '#ff7d1a', font: `italic 24px ${FONT}`, whiteSpace: 'nowrap' }}>ลุ้น Day ไม่ให้พังลงมา</div>
      <div style={{ position: 'absolute', left: 1043, top: 231, color: '#ff7d1a', font: `italic 24px ${FONT}`, whiteSpace: 'nowrap' }}>ลุ้น 60 นาทีให้ดีดไวๆ</div>
      <svg width={1335} height={550} style={{ position: 'absolute', left: 0, top: 0, pointerEvents: 'none' }}>
        <ellipse cx={597} cy={262} rx={75} ry={227} fill="none" stroke="#ff7f27" strokeWidth={1.2} />
        <ellipse cx={1254} cy={395} rx={66} ry={120} fill="none" stroke="#ff7f27" strokeWidth={1.2} />
      </svg>
    </div>
  );
}
